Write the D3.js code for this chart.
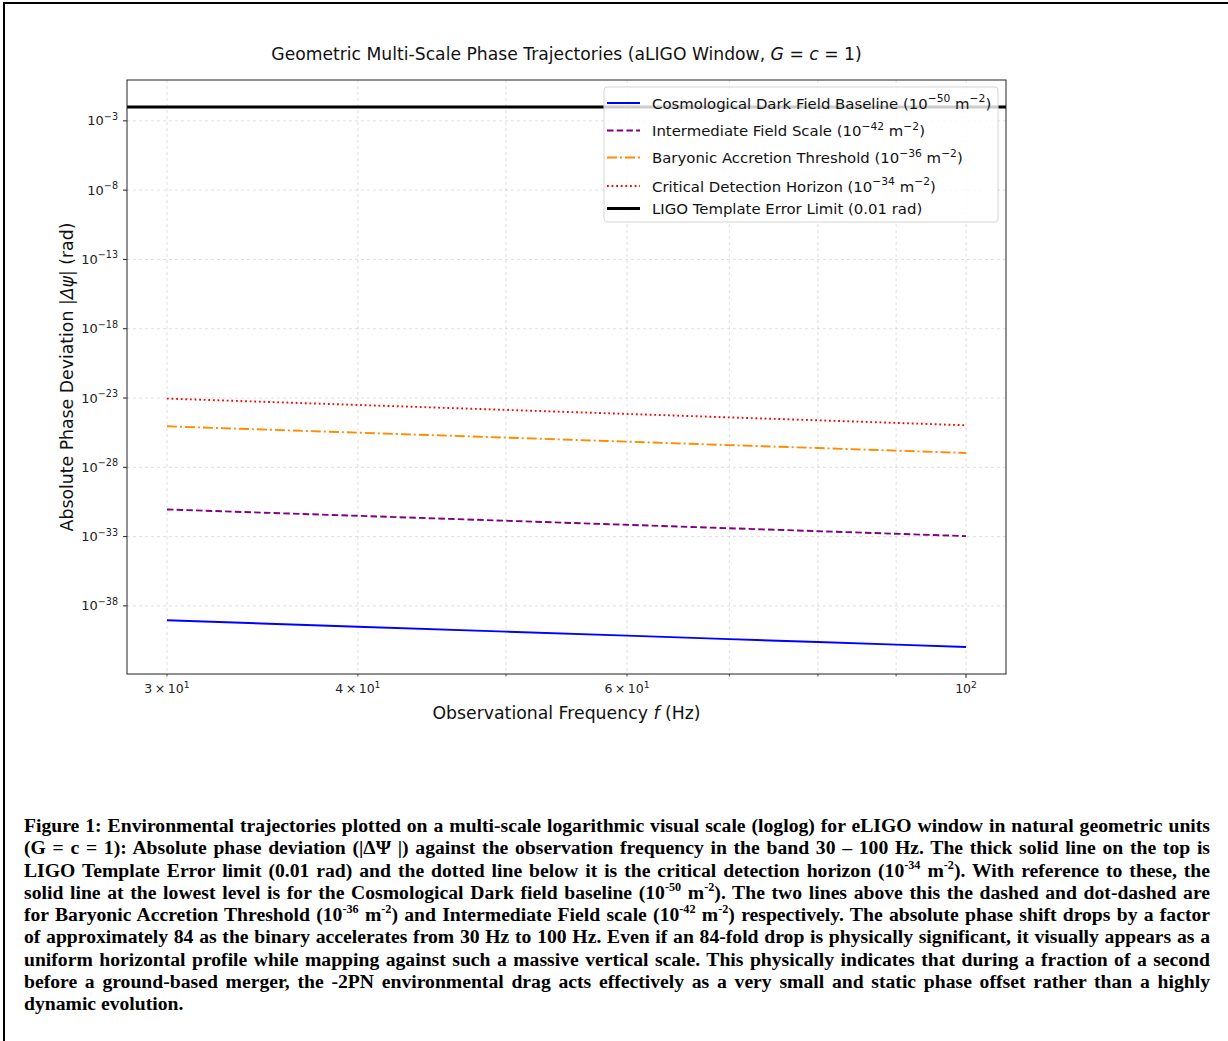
<!DOCTYPE html>
<html>
<head>
<meta charset="utf-8">
<script src="https://cdn.jsdelivr.net/npm/d3@7"></script>
<style>
  body { margin: 0; background: #fff; }
  svg { display: block; }
</style>
</head>
<body>
<svg id="fig" width="1228" height="1041"></svg>
<script>
// values (rad), one per observational frequency
var freqs        = [30, 40, 50, 60, 70, 80, 90, 100]
var darkField    = [9.1e-40, 3.16e-40, 1.39e-40, 7.1e-41, 4.0e-41, 2.46e-41, 1.6e-41, 1.08e-41]
var intermediate = [9.1e-32, 3.16e-32, 1.39e-32, 7.1e-33, 4.0e-33, 2.46e-33, 1.6e-33, 1.08e-33]
var baryonic     = [9.1e-26, 3.16e-26, 1.39e-26, 7.1e-27, 4.0e-27, 2.46e-27, 1.6e-27, 1.08e-27]
var critical     = [9.1e-24, 3.16e-24, 1.39e-24, 7.1e-25, 4.0e-25, 2.46e-25, 1.6e-25, 1.08e-25]
var ligoLimit = 0.01

var seriesLabels = [
  [["Cosmological Dark Field Baseline (10", 0], ["−50", 1], [" m", 0], ["−2", 1], [")", 0]],
  [["Intermediate Field Scale (10", 0], ["−42", 1], [" m", 0], ["−2", 1], [")", 0]],
  [["Baryonic Accretion Threshold (10", 0], ["−36", 1], [" m", 0], ["−2", 1], [")", 0]],
  [["Critical Detection Horizon (10", 0], ["−34", 1], [" m", 0], ["−2", 1], [")", 0]],
  [["LIGO Template Error Limit (0.01 rad)", 0]]
]
var yTickExps = [-3, -8, -13, -18, -23, -28, -33, -38]
var xMinorTicks = [30, 40, 50, 60, 70, 80, 90]
var xMajorTicks = [100]
var xTickLabels = {30: [["3\u2009×\u200910", 0], ["1", 1]], 40: [["4\u2009×\u200910", 0], ["1", 1]],
                   60: [["6\u2009×\u200910", 0], ["1", 1]], 100: [["10", 0], ["2", 1]]}

var captionLines = [
  [["Figure 1: Environmental trajectories plotted on a multi-scale logarithmic visual scale (loglog) for eLIGO window in natural geometric units", 0]],
  [["(G = c = 1): Absolute phase deviation (|ΔΨ |) against the observation frequency in the band 30 – 100 Hz. The thick solid line on the top is", 0]],
  [["LIGO Template Error limit (0.01 rad) and the dotted line below it is the critical detection horizon (10", 0], ["-34", 1], [" m", 0], ["-2", 1], ["). With reference to these, the", 0]],
  [["solid line at the lowest level is for the Cosmological Dark field baseline (10", 0], ["-50", 1], [" m", 0], ["-2", 1], ["). The two lines above this the dashed and dot-dashed are", 0]],
  [["for Baryonic Accretion Threshold (10", 0], ["-36", 1], [" m", 0], ["-2", 1], [") and Intermediate Field scale (10", 0], ["-42", 1], [" m", 0], ["-2", 1], [") respectively. The absolute phase shift drops by a factor", 0]],
  [["of approximately 84 as the binary accelerates from 30 Hz to 100 Hz. Even if an 84-fold drop is physically significant, it visually appears as a", 0]],
  [["uniform horizontal profile while mapping against such a massive vertical scale. This physically indicates that during a fraction of a second", 0]],
  [["before a ground-based merger, the -2PN environmental drag acts effectively as a very small and static phase offset rather than a highly", 0]],
  [["dynamic evolution.", 0]]
]

var series = [
  {vals: darkField,    color: "#0000ff", dash: null,          width: 1.9},
  {vals: intermediate, color: "#800080", dash: "6.5,3.2",     width: 1.9},
  {vals: baryonic,     color: "#ff8c00", dash: "10,3,2,3",    width: 1.9},
  {vals: critical,     color: "#ff0000", dash: "1.8,2.8",     width: 1.9}
]

var svg = d3.select("#fig")
var sans = "DejaVu Sans, sans-serif"

/*
text with superscripts: parts = [[text, isSup, isItalic], ...]
*/
function richText(g, parts, x, y, size, opts){
  opts = opts || {}
  var t = g.append("text")
    .attr("x", x).attr("y", y)
    .attr("font-size", size)
    .attr("font-family", opts.family || sans)
    .attr("fill", opts.fill || "#000")
  if(opts.anchor) t.attr("text-anchor", opts.anchor)
  if(opts.weight) t.attr("font-weight", opts.weight)
  var rise = size * (opts.rise || 0.42), up = false
  parts.forEach(function(p){
    var s = t.append("tspan").text(p[0])
    if(p[1]){
      s.attr("font-size", size * (opts.supScale || 0.72))
      if(!up) s.attr("dy", -rise)
      up = true
    } else if(up){
      s.attr("dy", rise)
      up = false
    }
    if(p[2]) s.attr("font-style", "italic")
  })
  return t
}

// page frame (top + left rule only)
svg.append("line").attr("x1", 3).attr("x2", 1228).attr("y1", 3).attr("y2", 3)
  .attr("stroke", "#000").attr("stroke-width", 2)
svg.append("line").attr("x1", 4).attr("x2", 4).attr("y1", 3).attr("y2", 1041)
  .attr("stroke", "#000").attr("stroke-width", 2)

var plot = {left: 127, top: 80, right: 1006, bottom: 674}

// log scales with matplotlib-like 5% margins (in log space)
var lx0 = Math.log10(d3.min(freqs)), lx1 = Math.log10(d3.max(freqs))
var mx = (lx1 - lx0) * 0.05
var x = d3.scaleLog().domain([Math.pow(10, lx0 - mx), Math.pow(10, lx1 + mx)]).range([plot.left, plot.right])

var allVals = d3.merge(series.map(d => d.vals)).concat([ligoLimit])
var ly0 = Math.log10(d3.min(allVals)), ly1 = Math.log10(d3.max(allVals))
var my = (ly1 - ly0) * 0.05
var y = d3.scaleLog().domain([Math.pow(10, ly0 - my), Math.pow(10, ly1 + my)]).range([plot.bottom, plot.top])

var gridG = svg.append("g")
xMinorTicks.concat(xMajorTicks).forEach(function(f){
  gridG.append("line").attr("x1", x(f)).attr("x2", x(f)).attr("y1", plot.top).attr("y2", plot.bottom)
    .attr("stroke", "#b0b0b0").attr("stroke-opacity", 0.5).attr("stroke-width", 0.8).attr("stroke-dasharray", "3,3")
})
yTickExps.forEach(function(e){
  var yy = y(Math.pow(10, e))
  gridG.append("line").attr("x1", plot.left).attr("x2", plot.right).attr("y1", yy).attr("y2", yy)
    .attr("stroke", "#b0b0b0").attr("stroke-opacity", 0.5).attr("stroke-width", 0.8).attr("stroke-dasharray", "3,3")
})

// series
var line = d3.line().x(d => x(d[0])).y(d => y(d[1]))
series.forEach(function(s){
  var p = svg.append("path")
    .attr("d", line(freqs.map((f, i) => [f, s.vals[i]])))
    .attr("fill", "none").attr("stroke", s.color).attr("stroke-width", s.width)
  if(s.dash) p.attr("stroke-dasharray", s.dash)
})
// axhline for the template error limit
svg.append("line").attr("x1", plot.left).attr("x2", plot.right)
  .attr("y1", y(ligoLimit)).attr("y2", y(ligoLimit))
  .attr("stroke", "#000").attr("stroke-width", 3)

// spines
svg.append("rect").attr("x", plot.left).attr("y", plot.top)
  .attr("width", plot.right - plot.left).attr("height", plot.bottom - plot.top)
  .attr("fill", "none").attr("stroke", "#222").attr("stroke-width", 1)

// ticks
var tickG = svg.append("g")
yTickExps.forEach(function(e){
  var yy = y(Math.pow(10, e))
  tickG.append("line").attr("x1", plot.left - 4).attr("x2", plot.left).attr("y1", yy).attr("y2", yy)
    .attr("stroke", "#222").attr("stroke-width", 1)
  richText(tickG, [["10", 0], ["−" + Math.abs(e), 1]], plot.left - 9, yy + 4.5, 13, {anchor: "end", fill: "#222", supScale: 0.74})
})
xMinorTicks.forEach(function(f){
  tickG.append("line").attr("x1", x(f)).attr("x2", x(f)).attr("y1", plot.bottom).attr("y2", plot.bottom + 2.5)
    .attr("stroke", "#222").attr("stroke-width", 0.8)
})
xMajorTicks.forEach(function(f){
  tickG.append("line").attr("x1", x(f)).attr("x2", x(f)).attr("y1", plot.bottom).attr("y2", plot.bottom + 4)
    .attr("stroke", "#222").attr("stroke-width", 1)
})
Object.keys(xTickLabels).forEach(function(k){
  richText(tickG, xTickLabels[k], x(+k), plot.bottom + 19, 12.5, {anchor: "middle", fill: "#222", supScale: 0.74})
})

// labels
var cx = (plot.left + plot.right) / 2
richText(svg, [["Geometric Multi-Scale Phase Trajectories (aLIGO Window, ", 0], ["G", 0, 1], [" = ", 0], ["c", 0, 1], [" = 1)", 0]],
  cx, 60, 17.2, {anchor: "middle", fill: "#111"})
richText(svg, [["Observational Frequency ", 0], ["f", 0, 1], [" (Hz)", 0]], cx, 719, 17.3, {anchor: "middle", fill: "#111"})
var yl = svg.append("g").attr("transform", "translate(73," + ((plot.top + plot.bottom) / 2) + ") rotate(-90)")
richText(yl, [["Absolute Phase Deviation |", 0], ["Δψ", 0, 1], ["| (rad)", 0]], 0, 0, 17.3, {anchor: "middle", fill: "#111"})

// legend
var leg = svg.append("g")
leg.append("rect").attr("x", 604).attr("y", 87).attr("width", 394).attr("height", 135).attr("rx", 3)
  .attr("fill", "#fff").attr("fill-opacity", 0.8).attr("stroke", "#d5d5d5").attr("stroke-width", 1)
var legY = [103, 130.5, 157.5, 186, 208.5]
var legStyles = series.concat([{color: "#000", dash: null, width: 3}])
legStyles.forEach(function(s, i){
  var l = leg.append("line").attr("x1", 607).attr("x2", 640).attr("y1", legY[i]).attr("y2", legY[i])
    .attr("stroke", s.color).attr("stroke-width", s.width)
  if(s.dash) l.attr("stroke-dasharray", s.dash)
  richText(leg, seriesLabels[i], 652, legY[i] + 5.5, 14.9, {fill: "#111"})
})

// caption, justified line by line; font size fitted so the widest line just fits
var capG = svg.append("g")
var capLeft = 24, capRight = 1210
var capFont = "Liberation Serif, Times New Roman, serif"
function drawCaption(size){
  capG.selectAll("*").remove()
  return captionLines.map(function(parts, i){
    return richText(capG, parts, capLeft, 832 + i * 22.25, size,
      {family: capFont, weight: "bold", supScale: 0.62, rise: 0.4})
  })
}
var probe = drawCaption(16)
var widest = d3.max(probe.slice(0, -1), t => t.node().getComputedTextLength())
var capSize = 16 * (capRight - capLeft) / widest * 0.985
drawCaption(capSize).forEach(function(t, i){
  if(i < captionLines.length - 1){
    var w = t.node().getComputedTextLength()
    var spaces = t.text().split(" ").length - 1
    t.attr("word-spacing", (capRight - capLeft - w) / spaces)
  }
})
</script>
</body>
</html>
